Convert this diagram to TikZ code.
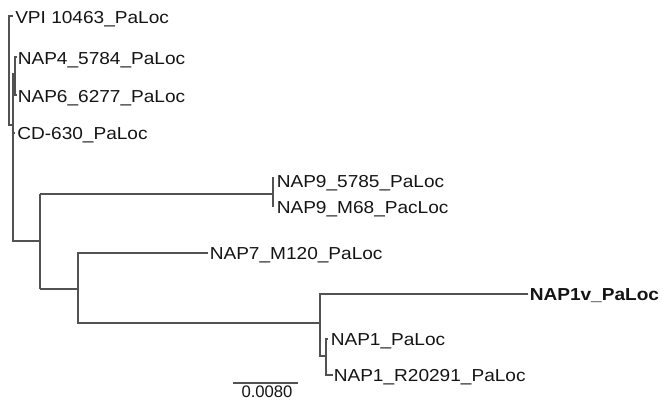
\documentclass[tikz,border=0pt]{standalone}
\usepackage{fontspec}
\setmainfont[FakeStretch=1.1]{Liberation Sans}
\newfontfamily\barfont{Liberation Sans}
\begin{document}
\begin{tikzpicture}[x=0.75pt,y=-0.75pt,
  br/.style={draw=black!68, line width=0.85pt},
  lbl/.style={anchor=base west, inner sep=0pt, font=\fontsize{13}{15}\selectfont, text=black!92}]
\useasboundingbox (0,0) rectangle (663,401);
% ---- internal nodes / junctions (px) ----
\coordinate (c0t) at (9,16);
\coordinate (c0b) at (9,125);
\coordinate (c0r) at (13,125);
\coordinate (rt) at (13,73);
\coordinate (rm) at (13,187);
\coordinate (rb) at (13,241);
\coordinate (r46) at (13,76);
\coordinate (n46) at (15,76);
\coordinate (n46t) at (15,57);
\coordinate (n46b) at (15,95);
\coordinate (rcd) at (13,133);
\coordinate (b1) at (40,241);
\coordinate (b1t) at (40,194);
\coordinate (b1b) at (40,289);
\coordinate (n9) at (273,194);
\coordinate (n9t) at (273,177);
\coordinate (n9b) at (273,207);
\coordinate (b2) at (78,289);
\coordinate (b2t) at (78,253);
\coordinate (b2b) at (78,323);
\coordinate (b3) at (320,323);
\coordinate (b3t) at (320,294);
\coordinate (b3b) at (320,356);
\coordinate (b4) at (326,356);
\coordinate (b4t) at (326,338);
\coordinate (b4b) at (326,375);
% ---- tips ----
\coordinate (tVPI) at (13,16);
\coordinate (tN4) at (17,57);
\coordinate (tN6) at (17,95);
\coordinate (tCD) at (15,133);
\coordinate (tN9a) at (275,181);
\coordinate (tN9b) at (275,207);
\coordinate (tN7) at (208,253);
\coordinate (tN1v) at (528,294);
\coordinate (tN1) at (328,339);
\coordinate (tN1R) at (333,375);
% ---- labels ----
\node[lbl] (lVPI) at (15,23) {VPI 10463\_PaLoc};
\node[lbl] (lN4) at (17.5,64.5) {NAP4\_5784\_PaLoc};
\node[lbl] (lN6) at (17.5,102) {NAP6\_6277\_PaLoc};
\node[lbl] (lCD) at (17,139) {CD-630\_PaLoc};
\node[lbl] (lN9a) at (276.5,187.5) {NAP9\_5785\_PaLoc};
\node[lbl] (lN9b) at (276.5,213.5) {NAP9\_M68\_PacLoc};
\node[lbl] (lN7) at (209.5,259) {NAP7\_M120\_PaLoc};
\node[lbl,font=\fontsize{13}{15}\selectfont\bfseries] (lN1v) at (529.5,300.5) {NAP1v\_PaLoc};
\node[lbl] (lN1) at (330.5,345.5) {NAP1\_PaLoc};
\node[lbl] (lN1R) at (333.5,381.5) {NAP1\_R20291\_PaLoc};
% ---- branches ----
\draw[br] (tVPI) -- (c0t) -- (c0b) -- (c0r);
\draw[br] (rt) -- (rb) -- (b1);
\draw[br, line width=1.4pt] (rt) -- (rm);
\draw[br] (r46) -- (n46);
\draw[br] (tN4) -- (n46t) -- (n46b) -- (tN6);
\draw[br] (rcd) -- (tCD);
\draw[br] (b1t) -- (b1b);
\draw[br] (b1t) -- (n9);
\draw[br] (n9t) -- (n9b);
\draw[br] (b1b) -- (b2);
\draw[br] (tN7) -- (b2t) -- (b2b) -- (b3);
\draw[br] (tN1v) -- (b3t) -- (b3b) -- (b4);
\draw[br] (b4t) -- (b4b) -- (tN1R);
\draw[br] (b4t |- tN1) -- (tN1);
% ---- scale bar ----
\coordinate (s0) at (233,383);
\coordinate (s1) at (298,383);
\draw[br] (s0) -- (s1);
\node[anchor=base, inner sep=0pt, font=\barfont\fontsize{12.5}{14}\selectfont, text=black!92] (sl) at (267,397.5) {0.0080};
\end{tikzpicture}
\end{document}
